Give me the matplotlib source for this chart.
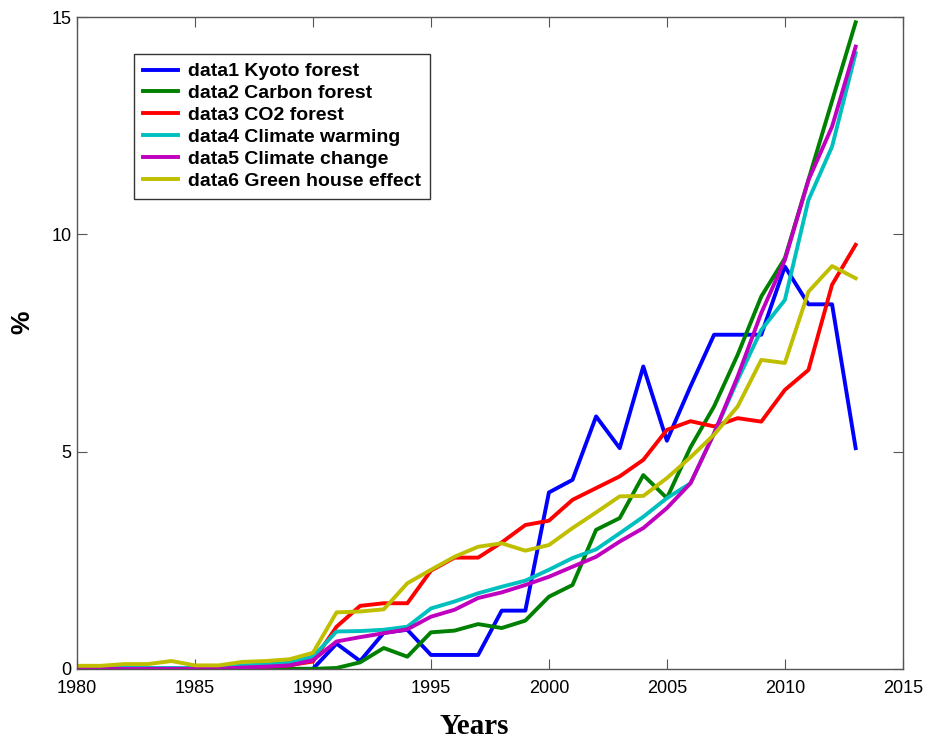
import matplotlib
matplotlib.use("Agg")
import matplotlib.pyplot as plt

years = list(range(1980, 2014))

kyoto = [0, 0, 0, 0, 0, 0, 0, 0, 0, 0,
         0.0, 0.58, 0.18, 0.83, 0.90, 0.32, 0.32, 0.32, 1.34, 1.34,
         4.06, 4.35, 5.81, 5.08, 6.96, 5.25, 6.50, 7.69, 7.69, 7.69,
         9.26, 8.39, 8.39, 5.08]
carbon = [0, 0, 0, 0, 0, 0, 0, 0, 0, 0,
          0.0, 0.02, 0.15, 0.48, 0.28, 0.84, 0.88, 1.03, 0.94, 1.11,
          1.66, 1.93, 3.20, 3.47, 4.46, 3.93, 5.10, 6.04, 7.23, 8.57,
          9.45, 11.26, 13.07, 14.88]
co2 = [0, 0, 0, 0, 0, 0, 0, 0.02, 0.05, 0.08,
       0.17, 0.97, 1.45, 1.51, 1.51, 2.26, 2.56, 2.56, 2.91, 3.31,
       3.41, 3.89, 4.16, 4.43, 4.81, 5.50, 5.70, 5.58, 5.77, 5.69,
       6.42, 6.88, 8.84, 9.76]
warming = [0.02, 0.02, 0.02, 0.02, 0.02, 0.02, 0.02, 0.08, 0.10, 0.15,
           0.28, 0.86, 0.87, 0.90, 0.97, 1.39, 1.55, 1.74, 1.89, 2.03,
           2.28, 2.55, 2.75, 3.12, 3.50, 3.93, 4.27, 5.42, 6.65, 7.80,
           8.49, 10.79, 12.02, 14.17]
change = [0, 0, 0, 0, 0, 0, 0, 0.03, 0.05, 0.08,
          0.20, 0.63, 0.73, 0.82, 0.91, 1.20, 1.36, 1.63, 1.76, 1.93,
          2.12, 2.35, 2.58, 2.93, 3.24, 3.70, 4.27, 5.42, 6.73, 8.19,
          9.41, 11.25, 12.48, 14.32]
greenhouse = [0.07, 0.07, 0.11, 0.11, 0.18, 0.08, 0.08, 0.16, 0.18, 0.22,
              0.37, 1.30, 1.32, 1.37, 1.97, 2.28, 2.58, 2.81, 2.89, 2.72,
              2.85, 3.24, 3.60, 3.97, 3.98, 4.39, 4.87, 5.39, 6.04, 7.11,
              7.04, 8.68, 9.27, 8.99]

labels = ["data1 Kyoto forest", "data2 Carbon forest", "data3 CO2 forest",
          "data4 Climate warming", "data5 Climate change", "data6 Green house effect"]
colors = ["#0000ff", "#008000", "#ff0000", "#00bfbf", "#bf00bf", "#bfbf00"]

fig = plt.figure(figsize=(9.3, 7.44), dpi=100)
ax = fig.add_axes([0.0828, 0.101, 0.888, 0.876])

series = [kyoto, carbon, co2, warming, change, greenhouse]
for vals, lab, col in zip(series, labels, colors):
    ax.plot(years, vals, color=col, lw=2.8, label=lab)

ax.set_xlim(1980, 2015)
ax.set_ylim(0, 15)
ax.set_xticks(range(1980, 2016, 5))
ax.set_yticks([0, 5, 10, 15])
ax.tick_params(direction="in", length=7, top=True, right=True,
               labelsize=13, color="#555555", pad=4)
ax.tick_params(axis="x", pad=8)
for lbl in ax.get_xticklabels() + ax.get_yticklabels():
    lbl.set_fontfamily("Liberation Sans")
for sp in ax.spines.values():
    sp.set_color("#555555")
    sp.set_linewidth(1.0)

fig.text(474 / 930, 1 - 727 / 744, "Years", fontfamily="Liberation Serif",
         fontweight="bold", fontsize=21, ha="center", va="center")
fig.text(22 / 930, 1 - 322 / 744, "%", fontfamily="Liberation Sans",
         fontweight="bold", fontsize=19, ha="center", va="center", rotation=90)

leg = ax.legend(loc="upper left", bbox_to_anchor=(134 / 930, 1 - 54 / 744),
                bbox_transform=fig.transFigure, frameon=True, fancybox=False,
                prop={"family": "Liberation Sans", "weight": "bold", "size": 14},
                handlelength=1.8, handletextpad=0.55, labelspacing=0.22,
                borderpad=0.45, borderaxespad=0)
leg.get_frame().set_edgecolor("black")
leg.get_frame().set_linewidth(1.0)

fig.savefig("out.png", dpi=100)
